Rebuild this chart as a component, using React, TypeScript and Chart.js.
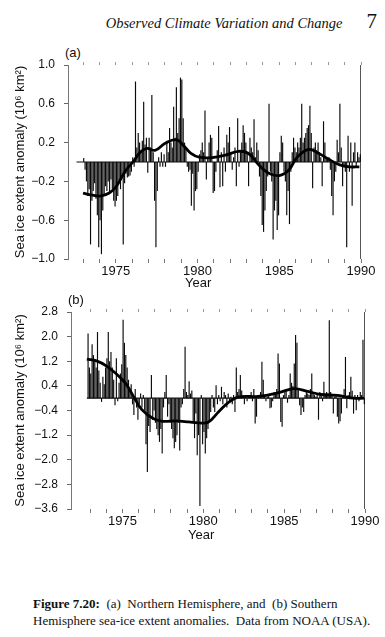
import React, { useEffect, useRef } from "react";
import { Chart, registerables } from "chart.js";
Chart.register(...registerables);

// ---------- DATA ----------
// (a) Northern Hemisphere monthly anomalies, Jan 1973 .. Dec 1989 (10^6 km^2)
const NH_START = 1973;
const nhMonthly = [
  0.04, -0.08, -0.2, -0.35, -0.28, -0.85, -0.4, -0.3, -0.22, -0.38, -0.55, -0.88, // 1973
  -0.6, -0.95, -0.5, -0.35, -0.25, -0.3, -0.2, -0.33, -0.18, -0.28, -0.4, -0.46, // 1974
  -0.4, -0.35, -0.2, -0.28, -0.15, -0.85, -0.22, -0.12, -0.16, -0.15, -0.14, -0.1, // 1975
  0.05, -0.05, 0.83, 0.15, 0.3, 0.2, 0.12, 0.22, 0.62, 0.18, 0.25, -0.11, // 1976
  0.25, 0.15, 0.69, 0.1, -0.4, -0.88, -0.3, 0.05, -0.05, 0.1, -0.05, 0.08, // 1977
  -0.05, 0.22, 0.1, 0.35, 0.2, 0.15, 0.57, 0.25, 0.77, 0.3, 0.45, 0.87, // 1978
  0.85, 0.45, 0.2, 0.15, -0.05, -0.1, -0.08, -0.45, -0.12, -0.5, -0.3, -0.28, // 1979
  -0.1, 0.08, 0.12, 0.2, 0.1, 0.53, -0.18, 0.05, 0.2, 0.28, 0.25, -0.32, // 1980
  -0.3, -0.1, 0.12, 0.37, -0.26, 0.1, -0.25, 0.15, -0.1, 0.28, 0.2, 0.36, // 1981
  0.1, -0.08, 0.05, 0.15, -0.25, 0.45, -0.05, 0.1, 0.2, 0.38, 0.3, 0.2, // 1982
  0.1, -0.25, 0.25, 0.15, 0.1, 0.44, 0.05, 0.2, 0.12, -0.15, -0.35, -0.65, // 1983
  -0.72, -0.5, -0.3, -0.15, 0.6, -0.1, -0.2, -0.8, -0.5, -0.4, -0.7, -0.55, // 1984
  0.1, 0.27, 0.2, -0.1, -0.2, -0.55, -0.3, -0.64, -0.1, 0.1, 0.25, 0.15, // 1985
  0.1, 0.2, 0.15, 0.25, 0.6, 0.2, 0.25, 0.3, 0.35, 0.38, 0.58, 0.3, // 1986
  -0.27, 0.15, 0.2, 0.12, 0.2, 0.1, 0.05, -0.25, 0.42, 0.2, 0.05, 0.04, // 1987
  0.05, -0.08, -0.35, -0.55, -0.2, -0.1, 0.23, 0.1, 0.6, 0.15, -0.25, -0.05, // 1988
  -0.1, -0.88, 0.27, -0.1, 0.2, -0.45, 0.1, 0.2, -0.05, 0.1, 0.05, 0.08, // 1989
];
const nhSmoothYears = [1973.0, 1973.5, 1974.1, 1974.6, 1975.0, 1975.6, 1976.1, 1976.5, 1976.9, 1977.4, 1978.0, 1978.7, 1979.2, 1979.6, 1980.1, 1980.9, 1981.7, 1982.5, 1983.1, 1983.7, 1984.3, 1985.0, 1985.6, 1986.1, 1986.8, 1987.4, 1988.0, 1988.7, 1989.3, 1989.9];
const nhSmoothValues = [-0.32, -0.34, -0.35, -0.32, -0.26, -0.09, 0.01, 0.1, 0.14, 0.12, 0.19, 0.23, 0.16, 0.09, 0.05, 0.045, 0.07, 0.11, 0.09, -0.02, -0.11, -0.14, -0.08, 0.05, 0.13, 0.09, 0.03, -0.03, -0.05, -0.05];
const nhYTicks = [1.0, 0.6, 0.2, -0.2, -0.6, -1.0];

// (b) Southern Hemisphere monthly anomalies, Nov 1972 .. Dec 1989 (10^6 km^2)
const SH_START = 1972 + 10 / 12;
const shMonthly = [
  2.1, 1.0, // 1972 Nov-Dec
  0.8, 1.75, 1.4, 1.2, 1.0, 2.15, 0.9, 0.5, -0.12, 0.7, 0.45, 1.0, // 1973
  1.3, 2.15, 1.2, 1.5, 1.0, 0.6, -0.23, 1.3, -0.1, 0.5, 0.8, 1.1, // 1974
  2.55, 1.8, 1.4, 1.0, 0.6, 0.3, 0.45, -0.2, -0.55, 0.3, -0.3, -0.7, // 1975
  -0.2, 0.15, -0.3, 0.1, -0.4, -1.5, -2.4, -0.9, -1.1, 0.75, -0.7, -0.4, // 1976
  -0.8, -1.0, -1.2, -1.42, -1.0, -1.8, -0.3, 0.2, 0.75, -0.6, -0.2, -0.8, // 1977
  -1.0, -1.3, -1.63, -1.42, -1.2, -0.8, -1.7, -0.3, -0.2, 0.3, 1.67, 0.2, // 1978
  0.1, 0.55, 0.15, 0.25, -0.8, -1.3, -0.5, -1.85, -1.2, -3.5, 0.1, -1.5, // 1979
  -1.1, -1.8, -1.3, -1.0, -0.8, -0.45, 0.1, -0.3, -0.45, 0.42, -0.2, 0.1, // 1980
  -0.1, 0.37, -0.2, 0.2, 0.1, -0.3, 0.15, -0.1, 0.05, -0.2, 0.1, -0.45, // 1981
  1.0, 0.2, 0.3, 0.75, 0.25, 0.1, -0.2, 0.1, -0.1, 0.05, 0.1, 0.2, // 1982
  -0.1, 0.3, -0.82, -0.6, 0.05, 0.1, 0.2, 1.18, 0.6, 0.1, -0.1, 0.05, // 1983
  0.1, -0.33, -0.3, -0.1, 0.2, 0.1, 0.3, 1.45, 1.13, -0.77, -0.93, 0.1, // 1984
  0.2, 0.3, -0.15, 0.1, 0.8, 0.5, 0.4, 1.13, 2.05, 1.8, 0.3, -0.23, // 1985
  -0.55, -0.3, -0.45, 0.1, 0.2, 0.15, 0.1, 0.3, 0.8, 0.15, 0.1, 0.05, // 1986
  0.1, -0.7, 0.2, 0.1, -0.1, 0.53, 0.1, 0.2, 0.15, 2.53, 0.2, 0.1, // 1987
  -0.5, 0.05, 0.1, -0.6, -0.82, -0.75, -0.5, 0.1, 0.3, 1.34, -0.33, 0.1, // 1988
  0.2, 0.7, 0.24, -0.5, 0.1, -0.39, 0.1, -0.1, 0.2, 0.1, 1.9, -0.2, // 1989
];
const shSmoothYears = [1972.8, 1973.4, 1974.0, 1974.6, 1975.2, 1975.7, 1976.2, 1976.9, 1977.5, 1978.3, 1979.1, 1979.7, 1980.3, 1980.95, 1981.6, 1982.2, 1983.4, 1984.6, 1985.6, 1986.45, 1987.25, 1988.3, 1989.3, 1989.95];
const shSmoothValues = [1.27, 1.21, 1.05, 0.8, 0.48, 0.04, -0.37, -0.66, -0.75, -0.74, -0.77, -0.8, -0.78, -0.44, -0.12, 0.04, 0.06, 0.17, 0.31, 0.22, 0.12, 0.09, 0.0, 0.0];
const shYTicks = [2.8, 2.0, 1.2, 0.4, -0.4, -1.2, -2.0, -2.8, -3.6];

const yearTicks = [1973, 1974, 1975, 1976, 1977, 1978, 1979, 1980, 1981, 1982, 1983, 1984, 1985, 1986, 1987, 1988, 1989, 1990];
const xLabelYears = [1975, 1980, 1985, 1990];
const Y_TITLE = "Sea ice extent anomaly (10\u2076 km\u00B2)";

// ---------- CHART ----------
const framePlugin = {
  id: "frameLines",
  beforeDatasetsDraw(chart: any, _args: any, opts: any) {
    const { ctx, scales, chartArea } = chart;
    const x = scales.x, y = scales.y;
    const y0 = y.getPixelForValue(0);
    ctx.save();
    ctx.strokeStyle = "#111";
    ctx.lineWidth = 1.2;
    ctx.beginPath();
    ctx.moveTo(x.getPixelForValue(opts.from), y0);
    ctx.lineTo(x.getPixelForValue(x.max), y0);
    ctx.stroke();
    ctx.strokeStyle = "#555";
    ctx.lineWidth = 1;
    ctx.beginPath();
    ctx.moveTo(chartArea.right - 0.5, chartArea.top);
    ctx.lineTo(chartArea.right - 0.5, chartArea.bottom);
    ctx.stroke();
    ctx.restore();
  },
};

const fmt = (v: number) => {
  const s = Math.abs(v).toFixed(1);
  return v < 0 ? "\u2212" + s : s;
};

function Panel(props: any) {
  const ref = useRef<HTMLCanvasElement>(null);
  const { start, monthly, sx, sy, yTicks, xMin, zeroFrom, axisW, padTop, padRight, w, h } = props;
  useEffect(() => {
    const bars = monthly.map((v: number, i: number) => ({ x: start + (i + 0.5) / 12, y: v }));
    const smooth = sx.map((x: number, i: number) => ({ x, y: sy[i] }));
    const yMin = Math.min(...yTicks), yMax = Math.max(...yTicks);
    const font13 = { family: "'Liberation Sans', Arial, sans-serif", size: 13 };
    const chart = new Chart(ref.current as HTMLCanvasElement, {
      type: "bar",
      data: {
        datasets: [
          { type: "line", data: smooth, borderColor: "#000", borderWidth: 2.8, pointRadius: 0, tension: 0.4, order: 0 } as any,
          { type: "bar", data: bars, backgroundColor: "#0a0a0a", barPercentage: 0.85, categoryPercentage: 1, order: 1 } as any,
        ],
      },
      options: {
        animation: false,
        responsive: false,
        maintainAspectRatio: false,
        layout: { padding: { top: padTop, right: padRight, left: 0, bottom: 0 } },
        plugins: { legend: { display: false }, tooltip: { enabled: false }, frameLines: { from: zeroFrom } } as any,
        scales: {
          x: {
            type: "linear", min: xMin, max: 1990, offset: false, position: "bottom",
            afterBuildTicks: (s: any) => { s.ticks = yearTicks.map((v) => ({ value: v })); },
            afterFit: (s: any) => { s.height = 20; },
            ticks: {
              autoSkip: false, maxRotation: 0, padding: 1, color: "#111", font: font13,
              callback: (v: any) => (xLabelYears.includes(v) ? String(v) : ""),
            },
            grid: { drawOnChartArea: false, drawTicks: true, tickLength: 4, color: "#777", offset: false },
            border: { display: false },
          },
          xt: {
            type: "linear", min: xMin, max: 1990, offset: false, position: "top",
            afterBuildTicks: (s: any) => { s.ticks = yearTicks.map((v) => ({ value: v })); },
            afterFit: (s: any) => { s.height = 0; },
            ticks: { display: false },
            grid: { drawOnChartArea: false, drawTicks: true, tickLength: 3, color: "#999", offset: false },
            border: { display: false },
          },
          y: {
            min: yMin, max: yMax,
            afterBuildTicks: (s: any) => { s.ticks = yTicks.map((v: number) => ({ value: v })); },
            afterFit: (s: any) => { s.width = axisW; },
            ticks: { autoSkip: false, padding: 9, color: "#111", font: { family: "'Liberation Sans', Arial, sans-serif", size: 12 }, callback: (v: any) => fmt(v) },
            grid: { drawOnChartArea: false, drawTicks: true, tickLength: 4, color: "#666" },
            border: { display: true, color: "#777", dash: [1, 2] },
            title: { display: true, text: Y_TITLE, color: "#111", font: font13, padding: { top: 13, bottom: 0 } },
          },
        },
      } as any,
      plugins: [framePlugin as any],
    });
    return () => chart.destroy();
  }, []);
  return <canvas ref={ref} width={w} height={h} style={{ position: "absolute", left: 0, top: props.top, width: w, height: h }} />;
}

const sans = "'Liberation Sans', Arial, sans-serif";
const serif = "'Liberation Serif', 'Times New Roman', serif";

export default function App() {
  return (
    <div style={{ position: "absolute", left: 0, top: 0, width: 385, height: 637, background: "#fff", overflow: "hidden", color: "#111" }}>
      <div style={{ position: "absolute", top: 10, left: 0, width: 377, textAlign: "right", fontFamily: serif, lineHeight: "22px", whiteSpace: "nowrap" }}>
        <span style={{ fontStyle: "italic", fontSize: 14.5 }}>Observed Climate Variation and Change</span>
        <span style={{ fontSize: 21, marginLeft: 24 }}>7</span>
      </div>
      <div style={{ position: "absolute", top: 46, left: 65, fontFamily: sans, fontSize: 13, lineHeight: "13px" }}>(a)</div>
      <Panel top={40} w={385} h={239} start={NH_START} monthly={nhMonthly} sx={nhSmoothYears} sy={nhSmoothValues}
        yTicks={nhYTicks} xMin={1972.08} zeroFrom={1972.6} axisW={68} padTop={25} padRight={24} />
      <div style={{ position: "absolute", top: 276, left: 185, fontFamily: sans, fontSize: 13, lineHeight: "13px" }}>Year</div>
      <div style={{ position: "absolute", top: 293, left: 68, fontFamily: sans, fontSize: 13, lineHeight: "13px" }}>(b)</div>
      <Panel top={285} w={385} h={244} start={SH_START} monthly={shMonthly} sx={shSmoothYears} sy={shSmoothValues}
        yTicks={shYTicks} xMin={1971.82} zeroFrom={1972.8} axisW={71} padTop={27} padRight={20} />
      <div style={{ position: "absolute", top: 528, left: 188, fontFamily: sans, fontSize: 13, lineHeight: "13px" }}>Year</div>
      <div style={{ position: "absolute", top: 595, left: 33, fontFamily: serif, fontSize: 13, lineHeight: "17px", whiteSpace: "pre" }}>
        <span style={{ fontWeight: "bold" }}>Figure 7.20:</span>{"  (a)  Northern Hemisphere, and  (b) Southern\nHemisphere sea-ice extent anomalies.  Data from NOAA (USA)."}
      </div>
    </div>
  );
}
